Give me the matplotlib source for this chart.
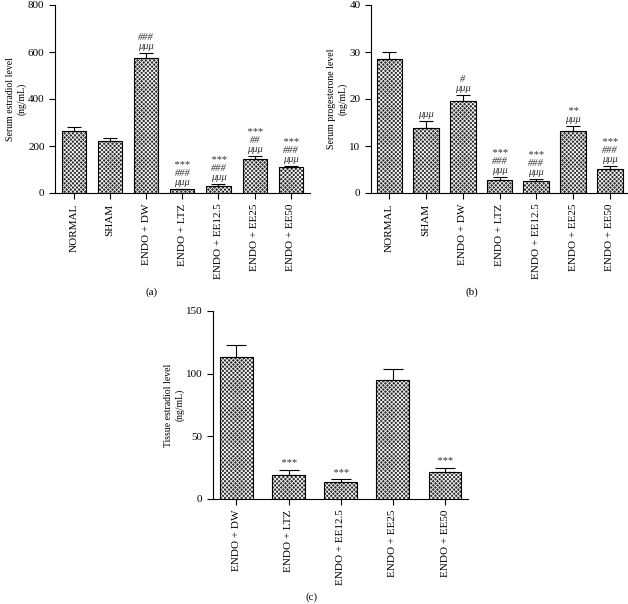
import numpy as np
import matplotlib.pyplot as plt

plt.rcParams['font.family'] = ['Liberation Serif', 'DejaVu Serif']
plt.rcParams['hatch.linewidth'] = 0.6

groups_ab = ['NORMAL', 'SHAM', 'ENDO + DW', 'ENDO + LTZ', 'ENDO + EE12.5', 'ENDO + EE25', 'ENDO + EE50']
groups_c = ['ENDO + DW', 'ENDO + LTZ', 'ENDO + EE12.5', 'ENDO + EE25', 'ENDO + EE50']

estradiol = [265, 220, 575, 15, 28, 143, 112]
estradiol_err = [15, 15, 20, 3, 10, 15, 3]
estradiol_sig = ['', '', '###\nμμμ', '***\n###\nμμμ', '***\n###\nμμμ', '***\n##\nμμμ', '***\n###\nμμμ']

progesterone = [28.5, 13.8, 19.6, 2.7, 2.5, 13.2, 5.1]
progesterone_err = [1.6, 1.6, 1.3, 0.7, 0.4, 1.1, 0.7]
progesterone_sig = ['', 'μμμ', '#\nμμμ', '***\n###\nμμμ', '***\n###\nμμμ', '**\nμμμ', '***\n###\nμμμ']

tissue = [113, 19.5, 13.5, 95, 21.5]
tissue_err = [10, 4, 2.5, 9, 3.5]
tissue_sig = ['', '***', '***', '', '***']


def bars(ax, labels, vals, errs, sig, ylim, yticks, ylabel, width, xlim, cap, labx):
    x = np.arange(len(vals))
    ax.bar(x, vals, width, color='#2a2a2a', edgecolor='#f4f4f4', hatch='xxxxxxxx', linewidth=0)
    ax.bar(x, vals, width, fill=False, edgecolor='black', linewidth=0.8)
    ax.errorbar(x, vals, yerr=[np.zeros(len(vals)), errs], fmt='none', ecolor='black',
                elinewidth=0.8, capsize=cap, capthick=0.8)
    for xi, v, e, s in zip(x, vals, errs, sig):
        if s:
            ax.annotate(s, xy=(xi, v + e), xytext=(0, 1.5), textcoords='offset points',
                        ha='center', va='bottom', fontsize=7.5, fontstyle='italic',
                        linespacing=1.0, color='#333333')
    ax.set_xlim(*xlim)
    ax.set_ylim(*ylim)
    ax.set_yticks(yticks)
    ax.set_xticks(x)
    ax.set_xticklabels(labels, rotation=90, fontsize=8)
    ax.tick_params(axis='y', labelsize=8, length=4, width=0.8)
    ax.tick_params(axis='x', length=4, width=0.8)
    ax.set_ylabel(ylabel, fontsize=7, linespacing=1.3)
    ax.yaxis.set_label_coords(labx, 0.5)
    for sp in ['top', 'right']:
        ax.spines[sp].set_visible(False)
    for sp in ['left', 'bottom']:
        ax.spines[sp].set_linewidth(0.8)


fig = plt.figure(figsize=(6.28, 6.04), dpi=100)
W, H = 628, 604

ax1 = fig.add_axes([55 / W, 1 - 193 / H, 255 / W, 188 / H])
bars(ax1, groups_ab, estradiol, estradiol_err, estradiol_sig, (0, 800), [0, 200, 400, 600, 800],
     'Serum estradiol level\n(ng/mL)', 0.67, (-0.52, 6.53), 5, -0.112)

ax2 = fig.add_axes([371 / W, 1 - 193 / H, 256 / W, 188 / H])
bars(ax2, groups_ab, progesterone, progesterone_err, progesterone_sig, (0, 40), [0, 10, 20, 30, 40],
     'Serum progesterone level\n(ng/mL)', 0.7, (-0.5, 6.47), 5, -0.09)

ax3 = fig.add_axes([213 / W, 1 - 499 / H, 255 / W, 188 / H])
bars(ax3, groups_c, tissue, tissue_err, tissue_sig, (0, 150), [0, 50, 100, 150],
     'Tissue estradiol level\n(ng/mL)', 0.63, (-0.45, 4.44), 7, -0.11)

fig.text(152 / W, 1 - 292 / H, '(a)', ha='center', va='center', fontsize=8)
fig.text(472 / W, 1 - 292 / H, '(b)', ha='center', va='center', fontsize=8)
fig.text(312 / W, 1 - 597 / H, '(c)', ha='center', va='center', fontsize=8)

fig.savefig('out.png', dpi=100)
